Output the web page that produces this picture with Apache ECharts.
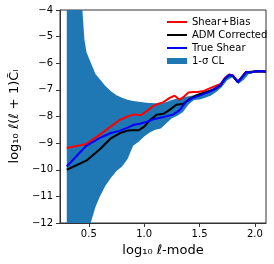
<!DOCTYPE html>
<html>
<head>
<meta charset="utf-8">
<script src="https://cdn.jsdelivr.net/npm/echarts@6/dist/echarts.min.js"></script>
<style>html,body{margin:0;padding:0;background:#fff}#c{width:274px;height:264px}</style>
</head>
<body>
<div id="c"></div>
<script>
// ---- data ----
const xTicks = [0.5, 1.0, 1.5, 2.0];

const redX = [0.301,0.477,0.60,0.70,0.778,0.85,0.91,0.97,1.03,1.085,1.13,1.17,1.23,1.275,1.32,1.36,1.40,1.44,1.48,1.54,1.58,1.64,1.69,1.73,1.77,1.80,1.845,1.875,1.92,1.96,2.0,2.05,2.1];
const redY = [-9.18,-9.03,-8.68,-8.37,-8.13,-8.0,-7.92,-7.95,-7.78,-7.6,-7.52,-7.47,-7.3,-7.22,-7.37,-7.25,-7.1,-7.08,-7.08,-7.04,-6.96,-6.86,-6.78,-6.55,-6.42,-6.46,-6.70,-6.55,-6.32,-6.34,-6.30,-6.29,-6.31];

const blackX = [0.301,0.477,0.60,0.70,0.778,0.85,0.90,0.95,1.0,1.056,1.114,1.173,1.23,1.29,1.35,1.407,1.465,1.55,1.64,1.69,1.73,1.77,1.80,1.845,1.875,1.92,1.96,2.0,2.05,2.1];
const blackY = [-10.0,-9.66,-9.23,-8.82,-8.63,-8.53,-8.52,-8.52,-8.38,-8.12,-7.93,-7.9,-7.75,-7.56,-7.53,-7.35,-7.22,-7.1,-6.97,-6.82,-6.58,-6.44,-6.48,-6.71,-6.57,-6.33,-6.35,-6.31,-6.30,-6.32];

const blueX = [0.301,0.477,0.60,0.70,0.778,0.85,0.91,0.97,1.03,1.085,1.173,1.26,1.32,1.377,1.436,1.524,1.61,1.684,1.73,1.77,1.80,1.845,1.875,1.92,1.96,2.0,2.05,2.1];
const blueY = [-9.88,-9.10,-8.80,-8.62,-8.54,-8.42,-8.31,-8.26,-8.19,-8.1,-8.02,-7.93,-7.76,-7.45,-7.31,-7.18,-7.04,-6.84,-6.57,-6.43,-6.47,-6.71,-6.56,-6.33,-6.35,-6.31,-6.29,-6.32];

const bandX     = [0.301,0.442,0.46,0.48,0.52,0.56,0.60,0.65,0.70,0.75,0.80,0.85,0.90,0.95,1.0,1.05,1.10,1.15,1.20,1.25,1.30,1.35,1.40,1.45,1.50,1.55,1.60,1.65,1.70,1.75,1.80,1.85,1.90,1.95,2.0,2.05,2.1];
const bandUpper = [2.0,-4.0,-5.1,-5.6,-6.0,-6.4,-6.6,-6.85,-7.05,-7.2,-7.3,-7.37,-7.42,-7.45,-7.47,-7.49,-7.5,-7.52,-7.46,-7.38,-7.32,-7.28,-7.24,-7.2,-7.12,-7.06,-6.99,-6.85,-6.7,-6.42,-6.40,-6.62,-6.38,-6.28,-6.26,-6.25,-6.27];
const bandLower = [-13.0,-12.8,-12.7,-12.5,-11.95,-11.4,-11.0,-10.6,-10.3,-10.05,-9.88,-9.6,-9.1,-8.95,-8.75,-8.6,-8.5,-8.45,-8.25,-8.07,-7.97,-7.83,-7.55,-7.38,-7.36,-7.3,-7.22,-7.08,-6.9,-6.64,-6.52,-6.78,-6.62,-6.38,-6.36,-6.35,-6.37];

const seriesNames = ['Shear+Bias', 'ADM Corrected', 'True Shear', '1-σ CL'];

// ---- chart ----
const zip = (xs, ys) => xs.map((x, i) => [x, ys[i]]);
const FONT = 'DejaVu Sans';
const BAND = '#1f77b4';
const chart = echarts.init(document.getElementById('c'), null, {renderer: 'canvas'});

const lineSeries = (name, xs, ys, color) => ({
  name, type: 'line', data: zip(xs, ys), symbol: 'none', smooth: false,
  color, lineStyle: {color, width: 2}, z: 3
});

chart.setOption({
  animation: false,
  textStyle: {fontFamily: FONT},
  grid: {left: 54, right: 8, top: 10, bottom: 41, show: true, borderColor: '#333', borderWidth: 1, backgroundColor: 'transparent'},
  xAxis: {
    type: 'value', min: 0.24, max: 2.1,
    name: 'log₁₀ ℓ-mode', nameLocation: 'middle', nameGap: 17,
    nameTextStyle: {fontSize: 13, color: '#000', fontFamily: FONT},
    axisLine: {show: true, lineStyle: {color: '#333'}},
    axisTick: {show: true, length: 4, lineStyle: {color: '#333'}, customValues: xTicks},
    axisLabel: {fontSize: 10, color: '#000', margin: 6, customValues: xTicks, formatter: v => v.toFixed(1)},
    splitLine: {show: false}
  },
  yAxis: {
    type: 'value', min: -12, max: -4, interval: 1,
    name: 'log₁₀ ℓ(ℓ + 1)C̃ₗ', nameLocation: 'middle', nameGap: 28, nameRotate: 90,
    nameTextStyle: {fontSize: 13, color: '#000', fontFamily: FONT},
    axisLine: {show: true, lineStyle: {color: '#333'}},
    axisTick: {show: true, length: 4, lineStyle: {color: '#333'}},
    axisLabel: {fontSize: 10, color: '#000', margin: 7, formatter: v => String(v).replace('-', '\u2212')},
    splitLine: {show: false}
  },
  legend: {
    orient: 'vertical', left: 166, top: 15.5, padding: 0,
    itemWidth: 20, itemHeight: 6, itemGap: 0,
    textStyle: {fontSize: 10, color: '#000', lineHeight: 13, fontFamily: FONT},
    data: [
      {name: seriesNames[0], itemStyle: {opacity: 0}},
      {name: seriesNames[1], itemStyle: {opacity: 0}},
      {name: seriesNames[2], itemStyle: {opacity: 0}},
      {name: seriesNames[3], icon: 'rect', itemStyle: {color: BAND, opacity: 1}}
    ]
  },
  series: [
    {
      name: seriesNames[3], type: 'custom', clip: true, z: 1,
      itemStyle: {color: BAND}, color: BAND,
      data: bandX.map((x, i) => [x, bandLower[i], bandUpper[i]]),
      encode: {x: 0, y: [1, 2]},
      renderItem: (params, api) => {
        if (params.dataIndex !== 0) return null;
        const top = bandX.map((x, i) => api.coord([x, bandUpper[i]]));
        const bot = bandX.map((x, i) => api.coord([x, bandLower[i]])).reverse();
        const cs = params.coordSys;
        return {
          type: 'group',
          clipPath: {type: 'rect', shape: {x: cs.x, y: cs.y, width: cs.width, height: cs.height}},
          children: [{type: 'polygon', shape: {points: top.concat(bot)}, style: {fill: BAND, stroke: null}}]
        };
      }
    },
    lineSeries(seriesNames[0], redX, redY, '#ff0000'),
    lineSeries(seriesNames[1], blackX, blackY, '#000000'),
    lineSeries(seriesNames[2], blueX, blueY, '#0000ff')
  ]
});
</script>
</body>
</html>
